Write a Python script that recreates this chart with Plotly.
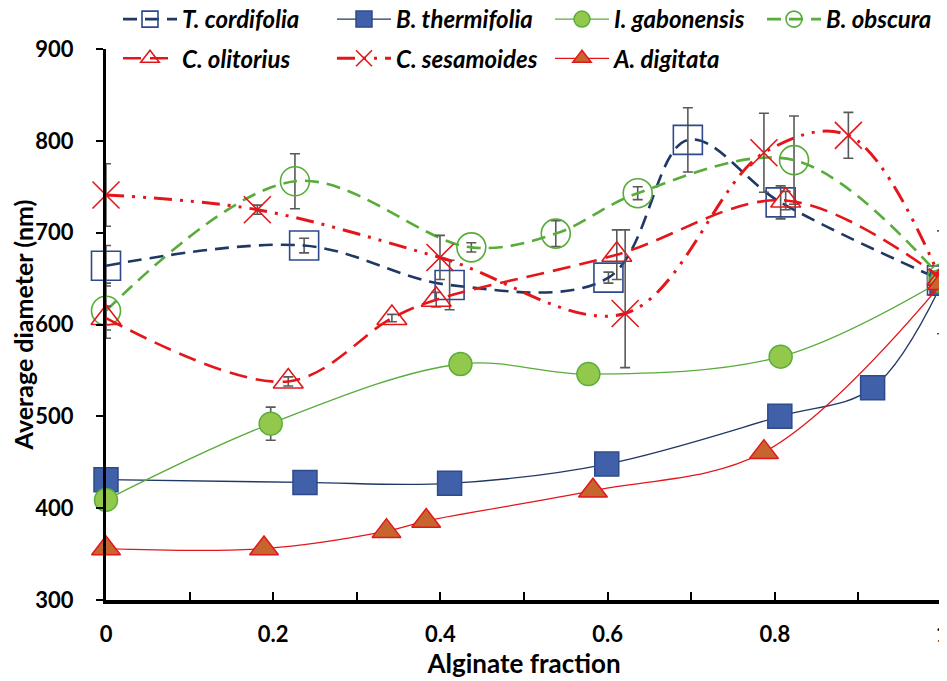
import plotly.graph_objects as go

# ---------------- data ----------------
names = ["T. cordifolia", "B. thermifolia", "I. gabonensis", "B. obscura",
         "C. olitorius", "C. sesamoides", "A. digitata"]

tc_x = [0, 0.237, 0.411, 0.601, 0.696, 0.807, 1]
tc_y = [664, 686, 643, 651, 801, 733, 648]
tc_e = [22, 8, 27, 6, 35, 18, 0]

bt_x = [0, 0.238, 0.411, 0.599, 0.806, 0.917, 1]
bt_y = [431, 428, 427, 448, 500, 531, 645]

ig_x = [0, 0.197, 0.424, 0.577, 0.807, 1]
ig_y = [409, 492, 557, 546, 565, 648]
ig_e = [0, 18, 0, 0, 0, 0]

bo_x = [0, 0.226, 0.437, 0.538, 0.636, 0.823, 1]
bo_y = [615, 756, 684, 699, 743, 779, 650]
bo_e = [30, 30, 5, 14, 7, 48, 0]

co_x = [0, 0.218, 0.342, 0.395, 0.611, 0.813, 1]
co_y = [607, 538, 607, 627, 676, 735, 650]
co_e = [13, 5, 4, 8, 27, 10, 0]

cs_x = [0, 0.181, 0.3995, 0.621, 0.787, 0.888, 1]
cs_y = [741, 725, 673, 612, 787, 806, 646]
cs_ep = [34, 5, 24, 91, 43, 25, 56]
cs_em = [34, 5, 24, 59, 43, 25, 56]

ad_x = [0, 0.189, 0.3355, 0.383, 0.5825, 0.787, 1]
ad_y = [356, 356, 375, 386, 419, 461, 645]

x_ticks = [0, 0.2, 0.4, 0.6, 0.8, 1]
x_ticktext = ["0", "0.2", "0.4", "0.6", "0.8", "1"]
y_ticks = [300, 400, 500, 600, 700, 800, 900]

# ---------------- style ----------------
NAVY = "#1F3864"
NAVY_M = "#2E4A8A"
BLUE_F = "#4060AA"
GREEN = "#58AC3A"
GREEN_F = "#92C94C"
RED = "#E3161B"
ORANGE = "#C6652D"
ERR = "#595959"
FONT = "Lato"

# the page body has an 8px default margin; the figure is sized to fit the window
OFF = 8
W, H = 947 - OFF, 681 - OFF
PL, PT, PW, PH = 106, 49, 836, 551   # plot area in page pixels


def err(arr, arrm=None):
    d = dict(type="data", array=arr, color=ERR, thickness=1.6, width=5, visible=True)
    if arrm is not None:
        d["symmetric"] = False
        d["arrayminus"] = arrm
    return d


fig = go.Figure()

fig.add_trace(go.Scatter(
    x=tc_x, y=tc_y, name=names[0], mode="lines+markers", legend="legend", legendgroup="g0",
    line=dict(color=NAVY, width=2.6, dash="14px,8px", shape="spline", smoothing=1),
    marker=dict(symbol="square-open", size=29, color=NAVY_M, line=dict(width=1.6)),
    error_y=err(tc_e), cliponaxis=False))

fig.add_trace(go.Scatter(
    x=bt_x, y=bt_y, name=names[1], mode="lines+markers", legend="legend2", legendgroup="g1",
    line=dict(color=NAVY, width=1.3, shape="spline", smoothing=1),
    marker=dict(symbol="square", size=24, color=BLUE_F, line=dict(color=NAVY_M, width=1.5)),
    cliponaxis=False))

fig.add_trace(go.Scatter(
    x=ig_x, y=ig_y, name=names[2], mode="lines+markers", legend="legend3", legendgroup="g2",
    line=dict(color=GREEN, width=1.3, shape="spline", smoothing=1),
    marker=dict(symbol="circle", size=23, color=GREEN_F, line=dict(color=GREEN, width=1.5)),
    error_y=err(ig_e), cliponaxis=False))

fig.add_trace(go.Scatter(
    x=bo_x, y=bo_y, name=names[3], mode="lines+markers", legend="legend4", legendgroup="g3",
    line=dict(color=GREEN, width=2.6, dash="14px,8px", shape="spline", smoothing=1),
    marker=dict(symbol="circle-open", size=29, color=GREEN, line=dict(width=1.6)),
    error_y=err(bo_e), cliponaxis=False))

fig.add_trace(go.Scatter(
    x=co_x, y=co_y, name=names[4], mode="lines+markers", legend="legend", legendgroup="g4",
    line=dict(color=RED, width=2.6, dash="18px,9px", shape="spline", smoothing=1),
    marker=dict(symbol="triangle-up-open", size=26, color=RED, line=dict(width=1.6)),
    error_y=err(co_e), cliponaxis=False))

fig.add_trace(go.Scatter(
    x=cs_x, y=cs_y, name=names[5], mode="lines+markers", legend="legend2", legendgroup="g5",
    line=dict(color=RED, width=3, dash="18px,8px,3px,8px,3px,8px", shape="spline", smoothing=1),
    marker=dict(symbol="x-thin-open", size=27, color=RED, line=dict(width=1.6, color=RED)),
    error_y=err(cs_ep, cs_em), cliponaxis=False))

fig.add_trace(go.Scatter(
    x=ad_x, y=ad_y, name=names[6], mode="lines+markers", legend="legend3", legendgroup="g6",
    line=dict(color=RED, width=1.3, shape="spline", smoothing=1),
    marker=dict(symbol="triangle-up", size=25, color=ORANGE, line=dict(color=RED, width=1.5)),
    cliponaxis=False))

legend_font = dict(family=FONT, size=24, color="black", weight="bold", style="italic")


def col_legend(page_x):
    return dict(orientation="v", xref="paper", yref="paper",
                x=(page_x - PL) / PW, y=1.0944, xanchor="left", yanchor="top",
                font=legend_font, itemwidth=54, tracegroupgap=5,
                bgcolor="rgba(0,0,0,0)", borderwidth=0, itemclick=False)


fig.update_layout(
    width=W, height=H,
    margin=dict(l=PL - OFF, r=5, t=PT - OFF, b=81, autoexpand=False),
    paper_bgcolor="white", plot_bgcolor="white",
    font=dict(family=FONT, color="black"),
    showlegend=True,
    legend=col_legend(118),
    legend2=col_legend(332),
    legend3=col_legend(550),
    legend4=col_legend(762),
    xaxis=dict(
        range=[0, 1], tickvals=x_ticks, ticktext=x_ticktext,
        showline=True, linecolor="black", linewidth=3.5,
        ticks="inside", ticklen=8, tickwidth=2, tickcolor="black",
        minor=dict(ticks="inside", dtick=0.1, ticklen=8, tickwidth=2, tickcolor="black"),
        showgrid=False, zeroline=False,
        tickfont=dict(family=FONT, size=22, weight="bold"),
        ticklabelstandoff=12, ticklabeloverflow="allow",
        title=dict(text="Alginate fraction", font=dict(family=FONT, size=26, weight="bold"), standoff=8),
    ),
    yaxis=dict(
        range=[300, 900], tickvals=y_ticks,
        showline=True, linecolor="black", linewidth=3,
        ticks="outside", ticklen=7, tickwidth=2, tickcolor="black",
        showgrid=False, zeroline=False,
        tickfont=dict(family=FONT, size=22, weight="bold"),
        ticklabelstandoff=18, ticklabeloverflow="allow",
        title=dict(text="Average diameter (nm)", font=dict(family=FONT, size=25, weight="bold"), standoff=6),
    ),
)

fig.write_html("out.html", config={"displayModeBar": False})
